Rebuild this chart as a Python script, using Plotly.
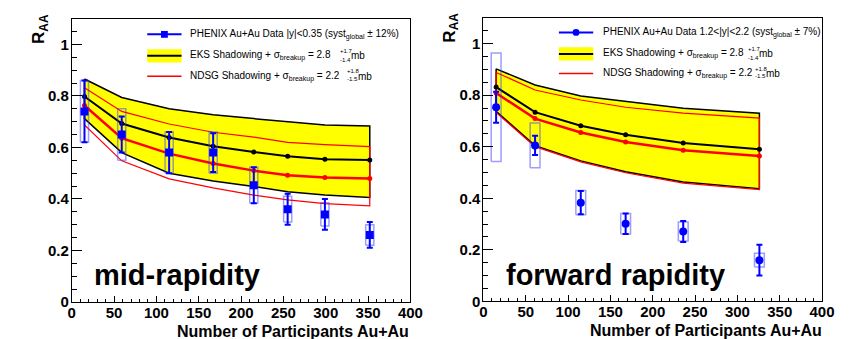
import plotly.graph_objects as go

# ---------------- data: mid-rapidity (|y|<0.35) ----------------
npart_mid = [15, 59, 115, 167, 215, 255, 299, 352]
raa_mid = [0.74, 0.65, 0.58, 0.58, 0.453, 0.36, 0.34, 0.26]
stat_mid = [0.12, 0.07, 0.08, 0.075, 0.07, 0.06, 0.06, 0.05]
syst_mid = [0.12, 0.10, 0.08, 0.08, 0.07, 0.05, 0.045, 0.04]

eks_mid = [0.798, 0.693, 0.639, 0.605, 0.582, 0.566, 0.554, 0.551]
eks_mid_hi = [0.866, 0.794, 0.750, 0.727, 0.712, 0.699, 0.687, 0.683]
eks_mid_lo = [0.712, 0.580, 0.500, 0.470, 0.448, 0.428, 0.415, 0.406]
ndsg_mid = [0.763, 0.636, 0.576, 0.538, 0.510, 0.492, 0.483, 0.479]
ndsg_mid_hi = [0.832, 0.740, 0.691, 0.659, 0.640, 0.620, 0.611, 0.603]
ndsg_mid_lo = [0.687, 0.548, 0.478, 0.443, 0.415, 0.396, 0.382, 0.373]

# ---------------- data: forward rapidity (1.2<|y|<2.2) ----------------
npart_fwd = [15, 61, 115, 168, 236, 326]
raa_fwd = [0.753, 0.605, 0.383, 0.301, 0.271, 0.160]
stat_fwd = [0.06, 0.037, 0.045, 0.04, 0.041, 0.06]
syst_fwd = [0.21, 0.087, 0.047, 0.04, 0.037, 0.027]

eks_fwd = [0.831, 0.734, 0.681, 0.646, 0.614, 0.590]
eks_fwd_hi = [0.902, 0.839, 0.797, 0.775, 0.749, 0.730]
eks_fwd_lo = [0.737, 0.604, 0.545, 0.503, 0.463, 0.437]
ndsg_fwd = [0.808, 0.709, 0.655, 0.618, 0.586, 0.564]
ndsg_fwd_hi = [0.888, 0.820, 0.781, 0.753, 0.730, 0.711]
ndsg_fwd_lo = [0.733, 0.600, 0.541, 0.499, 0.459, 0.434]

x_ticks = [0, 50, 100, 150, 200, 250, 300, 350, 400]
y_ticks = [0, 0.2, 0.4, 0.6, 0.8, 1]

W, H = 854, 339
FONT = "Liberation Sans"


def X(px):
    return px / W


def Y(py):
    return 1 - py / H


fig = go.Figure()


def band(n, hi, lo):
    xs = list(n) + list(reversed(n)) + [n[0]]
    ys = list(hi) + list(reversed(lo)) + [hi[0]]
    return xs, ys


def boxes(n, v, s, hw):
    xs, ys = [], []
    for xi, yi, si in zip(n, v, s):
        xs += [xi - hw, xi + hw, xi + hw, xi - hw, xi - hw, None]
        ys += [yi - si, yi - si, yi + si, yi + si, yi - si, None]
    return xs, ys


def add_panel(xa, ya, n, raa, stat, syst, eks, ehi, elo, nd, nhi, nlo, sym, hw):
    bx, by = band(n, ehi, elo)
    fig.add_trace(go.Scatter(x=bx, y=by, mode="lines", fill="toself",
                             fillcolor="#ffff00", line=dict(color="black", width=1.5),
                             xaxis=xa, yaxis=ya, showlegend=False, hoverinfo="skip"))
    rx, ry = band(n, nhi, nlo)
    fig.add_trace(go.Scatter(x=rx, y=ry, mode="lines",
                             line=dict(color="#ff0000", width=1.2),
                             xaxis=xa, yaxis=ya, showlegend=False, hoverinfo="skip"))
    fig.add_trace(go.Scatter(x=n, y=eks, mode="lines+markers",
                             line=dict(color="black", width=2),
                             marker=dict(color="black", size=5),
                             xaxis=xa, yaxis=ya, showlegend=False))
    fig.add_trace(go.Scatter(x=n, y=nd, mode="lines+markers",
                             line=dict(color="#ff0000", width=2.5),
                             marker=dict(color="#ff0000", size=5),
                             xaxis=xa, yaxis=ya, showlegend=False))
    sx, sy = boxes(n, raa, syst, hw)
    fig.add_trace(go.Scatter(x=sx, y=sy, mode="lines",
                             line=dict(color="rgba(60,60,255,0.5)", width=1.5),
                             xaxis=xa, yaxis=ya, showlegend=False, hoverinfo="skip"))
    fig.add_trace(go.Scatter(x=n, y=raa, mode="markers",
                             marker=dict(color="#0000ff", size=8, symbol=sym),
                             error_y=dict(type="data", array=stat, color="#0000ff",
                                          thickness=2, width=3),
                             xaxis=xa, yaxis=ya, showlegend=False))


add_panel("x", "y", npart_mid, raa_mid, stat_mid, syst_mid,
          eks_mid, eks_mid_hi, eks_mid_lo, ndsg_mid, ndsg_mid_hi, ndsg_mid_lo,
          "square", 4.8)
add_panel("x2", "y2", npart_fwd, raa_fwd, stat_fwd, syst_fwd,
          eks_fwd, eks_fwd_hi, eks_fwd_lo, ndsg_fwd, ndsg_fwd_hi, ndsg_fwd_lo,
          "circle", 5.8)

tickfont = dict(family=FONT, size=15, color="black", weight="bold")


def xaxis(domain, anchor):
    return dict(domain=domain, anchor=anchor, range=[0, 400],
                tickvals=x_ticks, ticktext=[str(v) for v in x_ticks],
                showline=True, linecolor="black", linewidth=1, mirror=True,
                ticks="inside", ticklen=6, tickwidth=1, tickcolor="black",
                minor=dict(ticks="inside", ticklen=3, dtick=10, tickcolor="black"),
                ticklabelstandoff=-3,
                showgrid=False, zeroline=False, tickfont=tickfont)


def yaxis(domain, anchor):
    return dict(domain=domain, anchor=anchor, range=[0, 1.1],
                tickvals=y_ticks, ticktext=["0", "0.2", "0.4", "0.6", "0.8", "1"],
                showline=True, linecolor="black", linewidth=1, mirror=True,
                ticks="inside", ticklen=10, tickwidth=1, tickcolor="black",
                minor=dict(ticks="inside", ticklen=5, dtick=0.05, tickcolor="black"),
                ticklabelstandoff=-1,
                showgrid=False, zeroline=False, tickfont=tickfont)


fig.update_layout(
    width=W, height=H, autosize=False,
    margin=dict(l=0, r=0, t=0, b=0),
    paper_bgcolor="white", plot_bgcolor="white",
    showlegend=False,
    xaxis=xaxis([X(61), X(406.5)], "y"),
    yaxis=yaxis([1 - 301 / H, 1 - 11 / H], "x"),
    xaxis2=xaxis([X(481), X(826.5)], "y2"),
    yaxis2=yaxis([1 - 300.5 / H, 1 - 10 / H], "x2"),
)

shapes = []
ann = []


def txt(x, y, s, size=10, anchor="left", bold=False, angle=0, yanchor="middle"):
    ann.append(dict(x=X(x), y=Y(y), xref="paper", yref="paper", text=s,
                    showarrow=False, xanchor=anchor, yanchor=yanchor, textangle=angle,
                    font=dict(family=FONT, size=size, color="black",
                              weight="bold" if bold else "normal")))


def legend(x0, x1, tx, r1, r2, r3, data_label, sym, sc_eks, sc_nd, mb_eks, mb_nd):
    # row 1: data
    shapes.append(dict(type="line", xref="paper", yref="paper", x0=X(x0), x1=X(x1),
                       y0=Y(r1), y1=Y(r1), line=dict(color="#0000ff", width=2)))
    xm = (x0 + x1) / 2
    shapes.append(dict(type=sym, xref="paper", yref="paper", x0=X(xm - 3.5), x1=X(xm + 3.5),
                       y0=Y(r1 - 3.5), y1=Y(r1 + 3.5), fillcolor="#0000ff",
                       line=dict(color="#0000ff", width=0)))
    txt(tx, r1, data_label)
    # row 2: EKS
    shapes.append(dict(type="rect", xref="paper", yref="paper", x0=X(x0), x1=X(x1),
                       y0=Y(r2 - 6.7), y1=Y(r2 + 6.7), fillcolor="#ffff00",
                       line=dict(width=0)))
    shapes.append(dict(type="line", xref="paper", yref="paper", x0=X(x0), x1=X(x1),
                       y0=Y(r2), y1=Y(r2), line=dict(color="black", width=2)))
    txt(tx, r2, "EKS Shadowing + σ<sub>breakup</sub> = 2.8")
    txt(sc_eks, r2 - 5, "+1.7", size=6)
    txt(sc_eks, r2 + 4, "-1.4", size=6)
    txt(mb_eks, r2, "mb")
    # row 3: NDSG
    shapes.append(dict(type="line", xref="paper", yref="paper", x0=X(x0), x1=X(x1),
                       y0=Y(r3), y1=Y(r3), line=dict(color="#ff0000", width=1.5)))
    txt(tx, r3, "NDSG Shadowing + σ<sub>breakup</sub> = 2.2")
    txt(sc_nd, r3 - 5, "+1.8", size=6)
    txt(sc_nd, r3 + 3, "-1.5", size=6)
    txt(mb_nd, r3, "mb")


legend(138, 173, 180, 27, 49, 70,
       "PHENIX Au+Au Data |y|<0.35 (syst<sub>global</sub> ± 12%)", "rect",
       333, 340, 343.5, 350.5)
legend(558, 593, 600.5, 25, 47, 67,
       "PHENIX Au+Au Data 1.2<|y|<2.2 (syst<sub>global</sub> ± 7%)", "circle",
       749, 756.5, 760, 767)

# axis titles
txt(28, 21, "R<sub>AA</sub>", size=17, anchor="center", bold=True, angle=-90)
txt(447, 20, "R<sub>AA</sub>", size=17, anchor="center", bold=True, angle=-90)
txt(407, 331, "Number of Participants Au+Au", size=16, anchor="right", bold=True)
txt(828, 330, "Number of Participants Au+Au", size=16, anchor="right", bold=True)

# panel labels
txt(82, 273, "mid-rapidity", size=29, bold=True)
txt(502.5, 273, "forward rapidity", size=29, bold=True)

fig.update_layout(shapes=shapes, annotations=ann)
fig.write_html("out.html")
